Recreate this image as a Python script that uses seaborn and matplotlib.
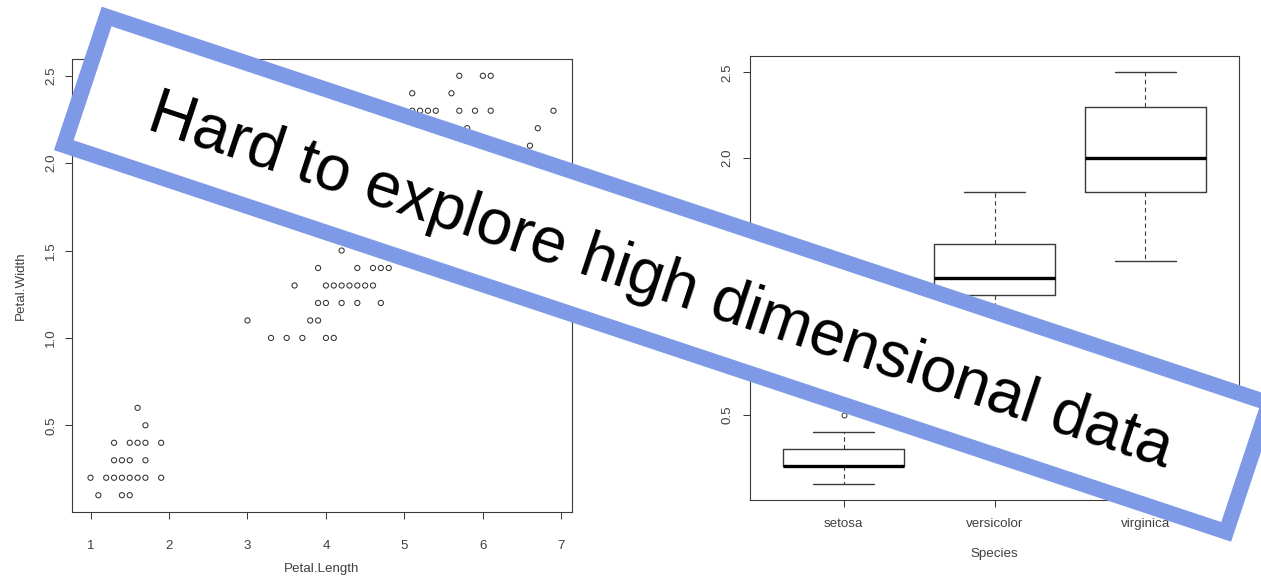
import numpy as np
import matplotlib
matplotlib.use("Agg")
import matplotlib.pyplot as plt
from matplotlib.patches import Polygon
import seaborn as sns

# ---- data -------------------------------------------------------------
petal_length = [
    1.6, 1.7,
    1.3, 1.5, 1.6, 1.7, 1.9,
    1.3, 1.4, 1.5, 1.7,
    1.0, 1.2, 1.3, 1.4, 1.5, 1.6, 1.7, 1.9,
    1.1, 1.4, 1.5,
    4.2,
    3.9, 4.4, 4.6, 4.7, 4.8,
    3.6, 4.0, 4.1, 4.2, 4.3, 4.4, 4.5, 4.6,
    3.9, 4.0, 4.2, 4.4, 4.7,
    3.0, 3.8, 3.9,
    3.3, 3.5, 3.7, 4.0, 4.1,
    5.7, 6.0, 6.1,
    5.1, 5.6,
    5.1, 5.2, 5.3, 5.4, 5.7, 5.9, 6.1, 6.9,
    5.8, 6.7,
    6.6,
]
petal_width = [
    0.6, 0.5,
    0.4, 0.4, 0.4, 0.4, 0.4,
    0.3, 0.3, 0.3, 0.3,
    0.2, 0.2, 0.2, 0.2, 0.2, 0.2, 0.2, 0.2,
    0.1, 0.1, 0.1,
    1.5,
    1.4, 1.4, 1.4, 1.4, 1.4,
    1.3, 1.3, 1.3, 1.3, 1.3, 1.3, 1.3, 1.3,
    1.2, 1.2, 1.2, 1.2, 1.2,
    1.1, 1.1, 1.1,
    1.0, 1.0, 1.0, 1.0, 1.0,
    2.5, 2.5, 2.5,
    2.4, 2.4,
    2.3, 2.3, 2.3, 2.3, 2.3, 2.3, 2.3, 2.3,
    2.2, 2.2,
    2.1,
]

species = ["setosa", "versicolor", "virginica"]
width_q1 = [0.2, 1.2, 1.8]
width_median = [0.2, 1.3, 2.0]
width_q3 = [0.3, 1.5, 2.3]
width_whislo = [0.1, 1.0, 1.4]
width_whishi = [0.4, 1.8, 2.5]
width_outliers = [[0.5, 0.6], [], []]

x_ticks = [1, 2, 3, 4, 5, 6, 7]
y_ticks = [0.5, 1.0, 1.5, 2.0, 2.5]

banner_text = "Hard to explore high dimensional data"

# ---- style ------------------------------------------------------------
sns.set_theme(style="white")
plt.rcParams["font.family"] = ["Liberation Sans", "DejaVu Sans"]

W, H = 1261, 576
fig = plt.figure(figsize=(W / 100, H / 100), dpi=100)
fig.patch.set_facecolor("white")

AX_COL = "#3a3a3a"
TXT_COL = "#404040"
FS = 9.6


def r_style(ax, xpad, ypad):
    for sp in ax.spines.values():
        sp.set_visible(True)
        sp.set_color(AX_COL)
        sp.set_linewidth(0.8)
    ax.tick_params(axis="both", which="both", direction="out", length=5,
                   width=0.75, color=AX_COL, labelcolor=TXT_COL,
                   labelsize=FS, bottom=True, left=True)
    ax.tick_params(axis="x", pad=xpad)
    ax.tick_params(axis="y", pad=ypad)
    for lab in ax.get_yticklabels():
        lab.set_rotation(90)
        lab.set_va("center")
        lab.set_ha("right")
    ax.grid(False)
    ax.set_facecolor("white")


# ---- left: scatter ------------------------------------------------------
ax1 = fig.add_axes([72 / W, (H - 512) / H, 500 / W, 453 / H])
sns.scatterplot(x=petal_length, y=petal_width, ax=ax1, marker="o", s=14,
                color="#333333", linewidth=0.75, legend=False)
ax1.collections[0].set_facecolor("none")
ax1.collections[0].set_edgecolor("#333333")
ax1.set_xlim(0.764, 7.136)
ax1.set_ylim(0.004, 2.596)
ax1.set_xticks(x_ticks)
ax1.set_xticklabels([str(v) for v in x_ticks])
ax1.set_yticks(y_ticks)
ax1.set_yticklabels([f"{v:.1f}" for v in y_ticks])
ax1.set_xlabel("Petal.Length", fontsize=FS, color=TXT_COL, labelpad=7.5)
ax1.set_ylabel("Petal.Width", fontsize=FS, color=TXT_COL, labelpad=13.5)
r_style(ax1, 15.5, 5.5)

# ---- right: boxplot ----------------------------------------------------
ax2 = fig.add_axes([750 / W, (H - 500) / H, 489 / W, 444 / H])
stats = []
for i, name in enumerate(species):
    stats.append(dict(label=name, med=width_median[i], q1=width_q1[i],
                      q3=width_q3[i], whislo=width_whislo[i],
                      whishi=width_whishi[i], fliers=width_outliers[i]))
ax2.bxp(stats, positions=[1, 2, 3], widths=0.8, showfliers=True,
        boxprops=dict(color=AX_COL, linewidth=1.0),
        medianprops=dict(color="black", linewidth=2.4, solid_capstyle="butt"),
        whiskerprops=dict(color=AX_COL, linewidth=0.8, linestyle=(0, (4, 3))),
        capprops=dict(color=AX_COL, linewidth=1.0),
        flierprops=dict(marker="o", markersize=3.6, markerfacecolor="none",
                        markeredgecolor="#333333", markeredgewidth=0.7))
ax2.set_xlim(0.38, 3.62)
ax2.set_ylim(0.004, 2.596)
ax2.set_xticks([1, 2, 3])
ax2.set_xticklabels(species)
ax2.set_yticks(y_ticks)
ax2.set_yticklabels([f"{v:.1f}" for v in y_ticks])
ax2.set_xlabel("Species", fontsize=FS, color=TXT_COL, labelpad=13)
ax2.set_ylabel("Petal.Width", fontsize=FS, color=TXT_COL, labelpad=11)
r_style(ax2, 8, 7)

# ---- tilted banner across both panels ---------------------------------
cx, cy = 666.4, 274.2          # centre, pixels from top-left
bw, bh = 1225.0, 135.6         # rectangle size along the border centreline
ang = np.deg2rad(18.4)         # clockwise tilt
u = np.array([np.cos(ang), np.sin(ang)])     # along the banner (y down)
v = np.array([-np.sin(ang), np.cos(ang)])    # across the banner (y down)
c = np.array([cx, cy])
corners = [c - u * bw / 2 - v * bh / 2, c + u * bw / 2 - v * bh / 2,
           c + u * bw / 2 + v * bh / 2, c - u * bw / 2 + v * bh / 2]
corners_fig = [(p[0] / W, (H - p[1]) / H) for p in corners]
banner = Polygon(corners_fig, closed=True, transform=fig.transFigure,
                 facecolor="white", edgecolor="#7e9ae6", linewidth=11.2,
                 joinstyle="miter", zorder=10)
fig.add_artist(banner)

tx, ty = 655.0, 298.0          # baseline centre of the caption
fig.text(tx / W, (H - ty) / H, banner_text, fontsize=46, color="black",
         rotation=-18.4, rotation_mode="anchor", ha="center", va="baseline",
         zorder=11)

fig.savefig("out.png", dpi=100, facecolor="white")
